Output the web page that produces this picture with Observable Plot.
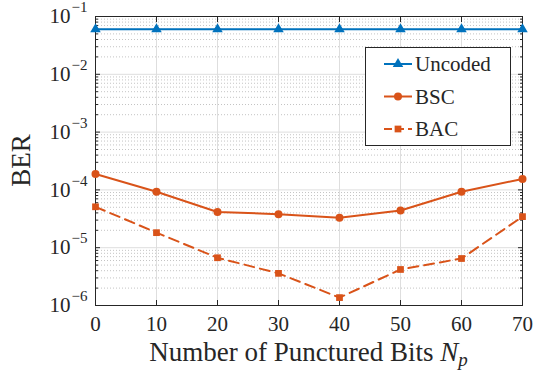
<!DOCTYPE html>
<html><head><meta charset="utf-8">
<script src="https://cdn.jsdelivr.net/npm/d3@7"></script>
<script src="https://cdn.jsdelivr.net/npm/@observablehq/plot@0.6"></script>
<style>body{margin:0;background:#fff}</style>
</head><body><div id="chart"></div>
<script>
// ---- data ----
const Np = [0, 10, 20, 30, 40, 50, 60, 70];
const uncoded = [0.06, 0.06, 0.06, 0.06, 0.06, 0.06, 0.06, 0.06];
const bsc = [1.89e-4, 9.3e-5, 4.15e-5, 3.8e-5, 3.3e-5, 4.4e-5, 9.3e-5, 1.55e-4];
const bac = [5.1e-5, 1.82e-5, 6.7e-6, 3.6e-6, 1.37e-6, 4.2e-6, 6.5e-6, 3.45e-5];
const seriesNames = ["Uncoded", "BSC", "BAC"];
const xTicks = [0, 10, 20, 30, 40, 50, 60, 70];
const yMajor = [1e-6, 1e-5, 1e-4, 1e-3, 1e-2, 1e-1];
const minorMultipliers = [2, 3, 4, 5, 6, 7, 8, 9];
const xLabel = "Number of Punctured Bits ";
const yLabel = "BER";

const blue = "#0072BD", orange = "#D95319", ink = "#262626";
const font = "'Liberation Serif', 'Times New Roman', serif";

const yMinor = yMajor.slice(0, -1).flatMap(m => minorMultipliers.map(k => k * m));
const rows = (vals) => Np.map((x, i) => ({x, y: vals[i]}));

const chart = Plot.plot({
  width: 535, height: 370,
  marginLeft: 95, marginRight: 13, marginTop: 16, marginBottom: 65,
  style: {fontFamily: font, fontSize: "21px", color: ink, background: "#fff", overflow: "visible"},
  x: {domain: [0, 70]},
  y: {type: "log", domain: [1e-6, 1e-1]},
  marks: [
    Plot.ruleY(yMinor, {stroke: "#c4c4c4", strokeDasharray: "1,2"}),
    Plot.ruleY(yMajor, {stroke: "#dedede"}),
    Plot.ruleX(xTicks, {stroke: "#dedede"}),
    Plot.axisX(xTicks, {anchor: "bottom", tickSize: -5, tickPadding: 16, label: null}),
    Plot.axisX(xTicks, {anchor: "top", tickSize: -5, tickFormat: () => "", label: null}),
    Plot.axisY(yMajor, {anchor: "left", tickSize: -5, tickPadding: 13, label: null,
      tickFormat: d => "10^" + Math.round(Math.log10(d))}),
    Plot.axisY(yMajor, {anchor: "right", tickSize: -5, tickFormat: () => "", label: null}),
    Plot.axisY(yMinor, {anchor: "left", tickSize: -3, tickFormat: () => "", label: null}),
    Plot.axisY(yMinor, {anchor: "right", tickSize: -3, tickFormat: () => "", label: null}),
    Plot.frame({stroke: ink, strokeWidth: 1}),
    Plot.line(rows(uncoded), {x: "x", y: "y", stroke: blue, strokeWidth: 2}),
    Plot.dot(rows(uncoded), {x: "x", y: "y", symbol: "triangle", fill: blue, r: 3.9}),
    Plot.line(rows(bsc), {x: "x", y: "y", stroke: orange, strokeWidth: 2}),
    Plot.dot(rows(bsc), {x: "x", y: "y", symbol: "circle", fill: orange, r: 4}),
    Plot.line(rows(bac), {x: "x", y: "y", stroke: orange, strokeWidth: 2, strokeDasharray: "10,6"}),
    Plot.dot(rows(bac), {x: "x", y: "y", symbol: "square", fill: orange, r: 3.8})
  ]
});
document.getElementById("chart").append(chart);

const svg = d3.select(chart);
// superscript tick labels
svg.selectAll('g[aria-label="y-axis tick label"] text').each(function() {
  const t = d3.select(this);
  const m = /^10\^(-?\d+)$/.exec(t.text());
  if (!m) return;
  const e = m[1].replace("-", "\u2212");
  t.text(null);
  t.append("tspan").text("10");
  t.append("tspan").attr("dy", -11).attr("font-size", 15).attr("dx", 1).text(e);
});

// axis labels
svg.append("text").attr("transform", "translate(21,160.5) rotate(-90)")
  .attr("text-anchor", "middle").attr("dy", "0.35em")
  .attr("font-size", 27).attr("fill", ink).text(yLabel);
const xl = svg.append("text").attr("x", 308.5).attr("y", 361)
  .attr("text-anchor", "middle").attr("font-size", 27).attr("fill", ink);
xl.append("tspan").text(xLabel);
xl.append("tspan").attr("font-style", "italic").text("N");
xl.append("tspan").attr("font-style", "italic").attr("font-size", 19).attr("dy", 5).text("p");

// legend
const lg = svg.append("g");
lg.append("rect").attr("x", 365.5).attr("y", 47.5).attr("width", 145).attr("height", 98)
  .attr("fill", "#fff").attr("stroke", ink);
const legendStyle = [
  {color: blue, dash: null, sym: d3.symbolTriangle, r: 3.9},
  {color: orange, dash: null, sym: d3.symbolCircle, r: 4},
  {color: orange, dash: "8,4", sym: d3.symbolSquare, r: 3.8}
];
seriesNames.forEach((name, i) => {
  const cy = 64 + i * 32.5, s = legendStyle[i];
  lg.append("line").attr("x1", 384).attr("x2", 412).attr("y1", cy).attr("y2", cy)
    .attr("stroke", s.color).attr("stroke-width", 2).attr("stroke-dasharray", s.dash);
  lg.append("path").attr("transform", `translate(398,${cy})`)
    .attr("d", d3.symbol(s.sym, s.r * s.r * Math.PI)()).attr("fill", s.color);
  lg.append("text").attr("x", 415).attr("y", cy).attr("dy", "0.35em")
    .attr("text-anchor", "start")
    .attr("font-size", 21).attr("fill", ink).text(name);
});
svg.selectAll("text").attr("font-family", font);
</script>
</body></html>
